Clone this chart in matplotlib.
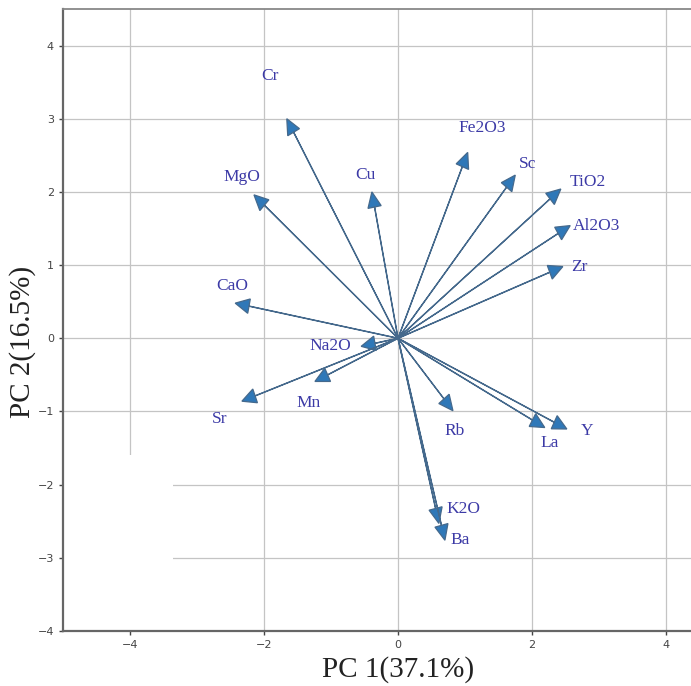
import numpy as np
import matplotlib
matplotlib.use("Agg")
import matplotlib.pyplot as plt
from matplotlib.patches import Rectangle

# PCA loadings (PC1, PC2) for each oxide / element
variables = ["Cr", "MgO", "Cu", "Fe2O3", "Sc", "TiO2", "Al2O3", "Zr", "CaO",
             "Na2O", "Sr", "Mn", "Rb", "La", "Y", "K2O", "Ba"]
pc1 = [-1.66, -2.15, -0.39, 1.04, 1.75, 2.43, 2.57, 2.46, -2.43,
       -0.55, -2.33, -1.24, 0.82, 2.19, 2.52, 0.61, 0.70]
pc2 = [3.00, 1.96, 2.00, 2.54, 2.23, 2.04, 1.54, 0.98, 0.48,
       -0.11, -0.86, -0.59, -0.99, -1.22, -1.24, -2.53, -2.76]

pc1_label = "PC 1(37.1%)"
pc2_label = "PC 2(16.5%)"

# where each name sits relative to its arrow tip
label_offset = {
    "Cr": (-0.25, 0.59), "MgO": (-0.18, 0.24), "Cu": (-0.09, 0.23),
    "Fe2O3": (0.21, 0.34), "Sc": (0.18, 0.15), "TiO2": (0.41, 0.10),
    "Al2O3": (0.40, 0.0), "Zr": (0.24, 0.0), "CaO": (-0.05, 0.23),
    "Na2O": (-0.46, 0.0), "Sr": (-0.33, -0.24), "Mn": (-0.10, -0.29),
    "Rb": (0.03, -0.28), "La": (0.08, -0.21), "Y": (0.30, -0.03),
    "K2O": (0.37, 0.20), "Ba": (0.23, 0.0),
}

fig = plt.figure(figsize=(6.91, 6.86), dpi=100)
ax = fig.add_axes([0.0912, 0.0802, 0.9696, 0.9067])

ax.set_xlim(-5, 5)
ax.set_ylim(-4, 4.5)
ax.set_xticks([-4, -2, 0, 2, 4])
ax.set_yticks([-4, -3, -2, -1, 0, 1, 2, 3, 4])
ax.set_axisbelow(True)
ax.grid(True, color="#c4c4c4", linewidth=0.9)

# blank patch in the lower-left corner where the grid is missing
ax.add_patch(Rectangle((-5, -4), 1.64, 2.4, facecolor="white",
                       edgecolor="none", zorder=1))

for name, x, y in zip(variables, pc1, pc2):
    ax.arrow(0, 0, x, y, length_includes_head=True, head_width=0.2,
             head_length=0.21, width=0.004, facecolor="#2f78b8",
             edgecolor="#45698c", linewidth=0.9, zorder=3)
    dx, dy = label_offset[name]
    ax.text(x + dx, y + dy, name, ha="center", va="center",
            fontsize=12.5, color="#3c3aa6", family="Liberation Serif",
            zorder=4)

ax.set_xlabel(pc1_label, fontsize=21, family="Liberation Serif", color="#222222")
ax.set_ylabel(pc2_label, fontsize=21, family="Liberation Serif", color="#222222")
ax.xaxis.set_label_coords(0.5, -0.04)
ax.yaxis.set_label_coords(-0.04, 0.465)

ax.tick_params(labelsize=8, colors="#444444", length=3, width=1)
for side in ["left", "bottom"]:
    ax.spines[side].set_color("#666666")
    ax.spines[side].set_linewidth(1.6)
ax.spines["top"].set_color("#888888")
ax.spines["top"].set_linewidth(1.3)
ax.spines["right"].set_visible(False)

fig.savefig("out.png", dpi=100)
